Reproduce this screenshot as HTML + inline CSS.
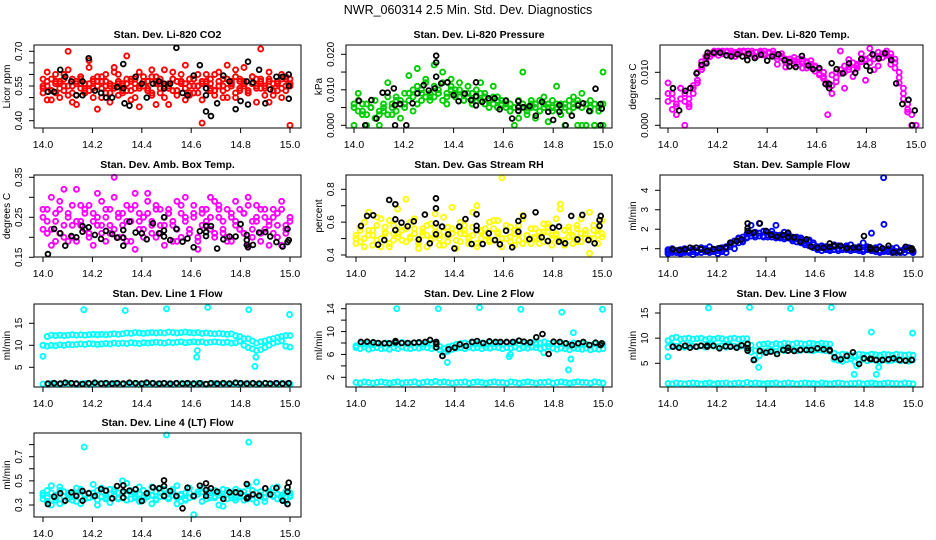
<!DOCTYPE html>
<html><head><meta charset="utf-8"><style>
html,body{margin:0;padding:0;background:#fff;}
svg{display:block;font-family:"Liberation Sans",Arial,sans-serif;}
</style></head><body>
<svg id="chart" width="936" height="540" viewBox="0 0 936 540" xmlns="http://www.w3.org/2000/svg">
<rect x="0" y="0" width="936" height="540" fill="#fff"/>
<text x="468" y="14" text-anchor="middle" font-size="12.5">NWR_060314  2.5 Min. Std. Dev. Diagnostics</text>
</svg>
<script>
// shared x values
const xTicks = [14.0,14.2,14.4,14.6,14.8,15.0];
const xTickLabels = ["14.0","14.2","14.4","14.6","14.8","15.0"];
const T = [14.02,14.045,14.07,14.09,14.115,14.135,14.16,14.185,14.21,14.235,14.255,14.28,14.30,14.325,14.35,14.375,14.40,14.42,14.445,14.47,14.49,14.515,14.54,14.565,14.585,14.61,14.635,14.66,14.68,14.705,14.73,14.755,14.78,14.80,14.825,14.85,14.875,14.90,14.92,14.945,14.97,14.995];

// Panel 1 CO2
const yTicks1 = [0.40,0.45,0.50,0.55,0.60,0.65,0.70];
const yLabels1 = ["0.40","0.55","0.70"];
const red1 = [.58,.61,.53,.57,.50,.55,.62,.48,.56,.59,.52,.66,.54,.57,.50,.60,.55,.63,.51,.56,.58,.49,.54,.61,.57,.53,.59,.47,.56,.62,.54,.58,.51,.57,.64,.52,.55,.60,.49,.56,.58,.53,.61,.55,.50,.57,.59,.54,.63,.52,.56,.48,.58,.55,.61,.53,.57,.50,.59,.56];
const red2 = [.52,.55,.49,.60,.57,.53,.70,.58,.51,.56,.54,.63,.57,.45,.59,.55,.52,.61,.56,.53,.68,.57,.50,.55,.59,.54,.62,.57,.52,.55,.47,.58,.53,.60,.56,.51,.58,.55,.39,.57,.53,.60,.55,.50,.58,.56,.62,.53,.57,.52,.59,.55,.71,.54,.58,.51,.56,.60,.53,.58];
const red3 = [.54,.49,.58,.52,.56,.60,.51,.55,.47,.58,.53,.56,.50,.59,.54,.57,.48,.55,.60,.52,.56,.53,.58,.46,.55,.57,.51,.59,.54,.50,.56,.61,.53,.57,.49,.55,.58,.52,.56,.60,.54,.51,.57,.53,.64,.55,.50,.58,.56,.52,.59,.54,.57,.51,.48,.56,.53,.58,.55,.38];
const red4 = [.55,.57,.53,.56,.54,.58,.55,.52,.57,.54,.56,.53,.58,.55,.57,.52,.56,.54,.57,.55,.53,.58,.56,.54,.55,.57,.52,.56,.58,.54,.55,.53,.57,.56,.54,.58,.52,.55,.57,.54,.56,.53,.55,.58,.54,.56,.52,.57,.55,.53,.56,.58,.54,.55,.57,.53,.56,.54,.58,.55];
const blk1 = [.525,.525,.62,.59,.57,.51,.57,.67,.53,.52,.50,.50,.545,.645,.465,.59,.56,.50,.56,.57,.54,.56,.715,.52,.51,.595,.64,.51,.42,.475,.595,.57,.45,.485,.57,.565,.62,.475,.535,.59,.59,.55];
const extT1 = [14.16,14.325,14.33,14.66,14.66,14.83,14.83,14.995,14.995,14.49];
const extV1 = [.51,.54,.475,.54,.44,.47,.655,.60,.495,.56];

// Panel 2 Pressure
const yTicks2 = [0,0.005,0.010,0.015,0.020];
const yLabels2 = ["0.000","0.010","0.020"];
const grn1 = [.006,.007,.004,.006,.005,.007,.003,.006,.008,.005,.007,.006,.009,.009,.010,.011,.010,.012,.009,.011,.010,.012,.009,.011,.010,.010,.009,.008,.009,.008,.009,.008,.007,.008,.007,.006,.007,.006,.005,.007,.006,.005,.006,.006,.007,.005,.006,.007,.006,.006,.005,.007,.006,.006,.005,.006,.007,.006,.005,.006];
const grn2 = [.000,.009,.003,.000,.005,.002,.000,.004,.012,.003,.008,.002,.006,.014,.004,.016,.007,.013,.008,.017,.009,.015,.006,.013,.008,.012,.007,.011,.006,.010,.012,.009,.005,.011,.008,.007,.006,.004,.000,.002,.015,.003,.007,.002,.004,.008,.001,.005,.011,.003,.000,.004,.008,.000,.009,.000,.005,.000,.004,.015];
const grn3 = [.005,.004,.006,.003,.005,.002,.004,.005,.003,.006,.004,.007,.005,.007,.008,.006,.009,.008,.007,.008,.009,.007,.008,.010,.009,.008,.007,.009,.007,.008,.007,.006,.007,.006,.005,.006,.005,.004,.005,.004,.005,.004,.005,.005,.004,.006,.005,.004,.005,.005,.006,.004,.005,.007,.000,.000,.004,.000,.005,.000];
const blk2 = [.0069,0,.0071,.0019,.0092,.0092,.0104,.006,0,.0062,.009,.0113,.0098,.0104,.0118,.0121,.0085,.0068,.0089,.0071,.0121,.0066,.0076,.0076,.0045,.0069,.0019,.0068,.0051,.0054,.0027,.0066,.0038,.0015,.0057,0,.0027,.0056,.0062,.004,.0103,.0047];
const extT2 = [14.165,14.165,14.33,14.33,14.33,14.49,14.49,14.66,14.66,14.825,14.99,14.99];
const extV2 = [.0057,0,.0196,.0177,.0137,.0082,.0056,.0041,.0051,.0038,.006,0];

// Panel 3 Temp
const yTicks3 = [0,0.005,0.010];
const yLabels3 = ["0.000","0.010"];
const mag1 = [.006,.005,.004,.005,.006,.005,.006,.010,.012,.013,.0135,.014,.0138,.014,.0138,.014,.0135,.014,.0138,.0135,.014,.0138,.0135,.014,.0138,.0135,.013,.0128,.0125,.012,.0122,.012,.0125,.012,.0115,.011,.0105,.010,.008,.0075,.009,.0105,.010,.011,.0105,.0115,.012,.0125,.0118,.0125,.013,.0135,.014,.0135,.0125,.010,.007,.004,.002,.000];
const mag2 = [.008,.003,.002,.007,.000,.004,.007,.008,.011,.012,.013,.0138,.0132,.0138,.0132,.0136,.013,.0138,.014,.0132,.0136,.013,.0138,.0132,.0136,.014,.0115,.013,.011,.0125,.0128,.0115,.012,.0108,.0122,.0112,.0098,.0092,.002,.006,.010,.014,.007,.0124,.0092,.0108,.0135,.0085,.0145,.0105,.0112,.0128,.0132,.0115,.0108,.008,.005,.0025,.000,.000];
const mag3 = [.0045,.006,.0035,.007,.0045,.0035,.0075,.0085,.0105,.0125,.013,.0135,.014,.0135,.014,.0133,.0138,.0135,.014,.014,.0135,.0138,.014,.0135,.0138,.0132,.0125,.0135,.0118,.0125,.0115,.0125,.0108,.0118,.011,.0102,.0095,.0088,.0075,.0095,.0082,.0098,.0112,.0105,.0118,.0112,.0125,.0122,.0128,.0132,.0138,.0128,.0135,.0128,.0118,.009,.006,.003,.000,.000];
const blk3 = [.007,.0028,.0065,.007,.0098,.0114,.0137,.0137,.0137,.0132,.013,.0134,.013,.0135,.0127,.0133,.0122,.013,.0134,.0123,.0119,.011,.0131,.0113,.0106,.0108,.0078,.0117,.0106,.0098,.0117,.0099,.0125,.0112,.0134,.0126,.0136,.0123,.0079,.004,.0048,.0028];
const extT3 = [14.155,14.157,14.32,14.49,14.65,14.65,14.815,14.985];
const extV3 = [.0117,.013,.0123,.0111,.0078,.007,.0103,0];

// Panel 4 Amb box temp
const yTicks4 = [0.15,0.20,0.25,0.30,0.35];
const yLabels4 = ["0.15","0.25","0.35"];
const amb1 = [.25,.21,.30,.19,.27,.23,.26,.20,.32,.24,.22,.28,.18,.25,.21,.27,.23,.30,.20,.26,.24,.19,.28,.22,.25,.31,.21,.27,.23,.18,.26,.24,.29,.20,.25,.22,.28,.19,.26,.23,.30,.21,.27,.24,.20,.25,.29,.22,.26,.18,.24,.28,.21,.25,.23,.27,.20,.29,.22,.25];
const amb2 = [.22,.27,.18,.24,.29,.20,.25,.23,.19,.28,.26,.21,.24,.31,.23,.19,.27,.22,.25,.20,.28,.24,.17,.26,.22,.29,.24,.20,.27,.23,.26,.19,.22,.28,.24,.21,.26,.17,.23,.27,.25,.20,.28,.22,.19,.26,.23,.27,.21,.30,.22,.25,.19,.27,.24,.21,.26,.18,.23,.25];
const amb3 = [.27,.24,.22,.26,.21,.32,.19,.28,.24,.23,.27,.20,.26,.23,.29,.25,.21,.35,.26,.23,.19,.27,.31,.24,.20,.26,.23,.28,.21,.25,.27,.23,.19,.26,.30,.22,.25,.20,.27,.24,.22,.29,.25,.21,.27,.19,.24,.22,.26,.28,.20,.24,.27,.22,.18,.25,.23,.27,.21,.24];
const blk4 = [.158,.221,.21,.179,.203,.20,.214,.225,.206,.196,.216,.208,.199,.199,.239,.212,.21,.195,.235,.21,.217,.193,.221,.189,.197,.175,.215,.228,.228,.172,.195,.202,.202,.233,.206,.181,.212,.213,.202,.188,.177,.193];
const extT4 = [14.16,14.325,14.325,14.49,14.49,14.66,14.66,14.825,14.825,14.83,14.99,14.99];
const extV4 = [.228,.218,.179,.25,.202,.203,.213,.193,.181,.175,.221,.188];

// Panel 5 RH
const yTicks5 = [0.4,0.5,0.6,0.7,0.8];
const yLabels5 = ["0.4","0.6","0.8"];
const yel1 = [.52,.48,.60,.55,.46,.63,.50,.57,.45,.53,.68,.49,.56,.51,.62,.47,.54,.58,.50,.65,.52,.46,.57,.53,.49,.60,.55,.47,.52,.70,.50,.56,.48,.61,.53,.45,.58,.51,.55,.49,.64,.52,.47,.56,.50,.59,.54,.46,.53,.71,.49,.57,.52,.48,.62,.55,.50,.58,.47,.53];
const yel2 = [.47,.55,.50,.66,.52,.58,.45,.54,.61,.49,.53,.57,.74,.50,.56,.48,.52,.45,.59,.54,.50,.63,.48,.56,.44,.53,.58,.51,.66,.47,.55,.52,.60,.49,.54,.87,.50,.57,.46,.53,.62,.49,.56,.51,.47,.54,.59,.50,.52,.68,.46,.55,.51,.58,.48,.53,.66,.50,.56,.51];
const yel3 = [.50,.57,.45,.52,.55,.49,.62,.53,.47,.58,.51,.55,.48,.60,.53,.44,.56,.52,.49,.57,.46,.54,.51,.69,.55,.48,.53,.50,.57,.45,.54,.52,.49,.56,.61,.50,.55,.48,.53,.58,.47,.52,.56,.50,.54,.48,.57,.52,.62,.49,.55,.51,.47,.56,.53,.50,.41,.55,.52,.61];
const blk5 = [.577,.638,.642,.463,.491,.735,.617,.597,.575,.605,.495,.646,.471,.593,.573,.526,.44,.573,.619,.467,.648,.467,.532,.491,.465,.548,.447,.607,.638,.497,.66,.508,.485,.566,.481,.471,.638,.495,.644,.491,.471,.638];
const extT5 = [14.16,14.16,14.325,14.325,14.325,14.49,14.49,14.66,14.825,14.99,14.99];
const extV5 = [.552,.709,.745,.684,.526,.577,.552,.542,.573,.577,.613];

// Panel 6 Sample flow
const yTicks6 = [1,2,3,4];
const yLabels6 = ["1","2","3","4"];
const blu1 = [.85,.8,.9,.85,.8,.9,.85,.9,.95,.85,.9,.95,.9,.85,1.0,1.2,1.4,1.55,1.6,1.75,1.8,1.85,1.8,1.9,1.85,1.75,1.7,1.7,1.6,1.65,1.6,1.5,1.45,1.4,1.35,1.2,1.1,1.05,1.0,1.05,1.1,1.0,1.05,1.1,1.0,1.05,1.0,.95,1.0,1.0,.95,.9,.95,1.0,.9,.85,.9,.95,.9,.85];
const blu2 = [.95,1.0,.9,.95,1.0,.85,1.0,.8,1.05,.95,1.1,.85,1.0,1.05,1.1,1.3,1.25,1.5,1.4,1.6,2.2,1.7,2.3,1.65,1.6,1.9,2.2,1.55,1.85,1.75,1.5,1.6,1.55,1.3,1.45,1.3,1.0,1.15,1.1,.95,1.2,1.15,.95,1.15,1.2,.95,1.1,1.3,1.1,1.8,1.05,1.1,2.25,.85,1.0,1.05,.8,1.0,1.05,.9];
const blu3 = [.75,.9,.8,.75,.9,.8,.7,.85,.8,1.0,.8,.85,.75,.95,.8,1.1,1.0,1.3,1.35,1.55,1.65,1.6,1.65,1.6,1.7,1.6,1.55,1.6,1.5,1.55,1.4,1.35,1.3,1.2,1.15,1.05,.95,.9,.95,.9,.95,.9,.95,.95,.9,.95,.9,.85,.95,.9,.85,.8,.85,.9,.8,.8,.85,.8,.9,.8];
const outT6 = [14.88];
const outV6 = [4.65];
const blk6 = [.97,.93,.97,1.05,1.05,.98,.88,.98,1.03,1.07,1.31,1.39,1.48,1.91,1.82,2.30,1.91,1.70,1.62,1.70,1.58,1.58,1.36,1.48,1.10,1.05,1.05,1.10,1.15,1.15,1.02,1.05,1.05,1.65,1.07,.97,1.02,1.15,.81,.85,1.10,1.02];
const extT6 = [14.325,14.325,14.49,14.66,14.825,14.995];
const extV6 = [2.30,2.05,1.82,1.27,.97,.93];

// Panel 7 Line 1
const yTicks7 = [5,10,15];
const yLabels7 = ["5","10","15"];
const cyU7 = [10.0,12.0,12.3,12.2,12.3,12.2,12.3,12.4,12.3,12.4,12.3,12.4,12.5,12.4,12.5,12.4,12.5,12.6,12.5,12.6,12.8,12.7,12.9,12.8,12.7,12.8,12.9,12.8,12.9,12.8,13.0,12.9,12.8,12.9,13.0,12.9,12.8,12.9,12.7,12.8,12.7,12.6,12.7,12.6,12.5,12.6,12.2,12.0,11.5,11.5,11.0,10.5,10.8,11.0,11.3,11.5,11.8,12.0,12.2,12.2];
const cyL7 = [10.0,9.8,10.0,9.9,10.1,10.0,10.2,10.1,10.2,10.3,10.2,10.4,10.3,10.2,10.3,10.4,10.3,10.5,10.4,10.5,10.4,10.6,10.5,10.4,10.6,10.5,10.6,10.7,10.6,10.5,10.7,10.6,10.7,10.8,10.6,10.7,10.8,10.7,10.8,10.6,10.7,10.8,10.7,10.6,10.7,10.5,10.6,11.0,10.0,9.5,9.2,8.8,9.0,9.5,10.0,10.5,10.8,11.0,9.8,9.6];
const cyB7 = [1.2,1.1,1.3,1.2,1.1,1.2,1.3,1.2,1.1,1.2,1.3,1.1,1.2,1.2,1.3,1.1,1.2,1.3,1.2,1.1,1.2,1.3,1.2,1.1,1.2,1.2,1.3,1.1,1.2,1.3,1.2,1.1,1.2,1.3,1.2,1.2,1.1,1.3,1.2,1.1,1.2,1.3,1.2,1.1,1.2,1.2,1.3,1.1,1.2,1.3,1.2,1.1,1.2,1.3,1.2,1.2,1.1,1.3,1.2,1.1];
const outT7 = [14.0,14.165,14.333,14.5,14.622,14.625,14.667,14.833,14.862,14.858,14.998];
const outV7 = [7.5,18.1,17.9,18.3,7.3,8.8,18.6,18.1,7.3,5.2,17.0];
const blk7 = [1.3,1.4,1.3,1.5,1.4,1.3,1.2,1.4,1.5,1.3,1.4,1.3,1.4,1.3,1.5,1.4,1.3,1.5,1.4,1.3,1.4,1.3,1.4,1.3,1.4,1.3,1.4,1.2,1.4,1.3,1.4,1.3,1.5,1.4,1.3,1.4,1.3,1.4,1.3,1.4,1.3,1.4];

// Panel 8 Line 2
const yTicks8 = [2,4,6,8,10,12,14];
const yLabels8 = ["2","6","10","14"];
const cyU8 = [7.5,7.9,7.8,8.0,7.7,7.9,7.8,8.0,7.7,7.9,7.8,8.1,7.9,7.8,8.0,7.9,7.8,8.0,7.9,8.1,7.4,7.0,7.3,7.5,7.8,7.9,8.0,7.8,8.1,7.9,8.0,7.8,8.1,7.9,8.0,7.8,8.0,7.9,8.1,7.8,8.0,7.9,8.1,7.8,8.0,8.2,7.9,8.0,7.8,8.0,7.9,7.8,8.0,7.7,7.9,7.8,7.6,7.9,7.7,7.8];
const cyL8 = [7.2,7.0,7.3,6.9,7.1,7.2,7.0,7.1,6.9,7.2,7.0,7.3,7.1,7.0,7.2,7.1,7.3,7.2,7.0,7.2,6.8,6.3,6.6,6.9,7.1,7.2,7.0,7.3,7.1,7.2,7.0,7.2,7.1,7.3,7.2,7.0,7.2,7.1,7.3,7.0,7.2,7.1,7.3,7.2,7.0,7.2,7.4,7.1,6.9,7.1,7.0,6.8,7.1,7.0,6.9,7.1,6.8,7.0,6.9,7.0];
const cyB8 = [1.1,1.0,1.2,1.1,1.0,1.1,1.2,1.1,1.0,1.1,1.2,1.0,1.1,1.1,1.2,1.0,1.1,1.2,1.1,1.3,1.1,1.2,1.1,1.0,1.1,1.1,1.2,1.0,1.1,1.2,1.1,1.0,1.1,1.2,1.1,1.1,1.0,1.2,1.1,1.0,1.1,1.2,1.1,1.0,1.1,1.1,1.2,1.0,1.1,1.2,1.1,1.0,1.1,1.2,1.1,1.1,1.0,1.2,1.1,1.0];
const outT8 = [14.165,14.333,14.5,14.667,14.833,14.998,14.35,14.37,14.62,14.625,14.76,14.86,14.87,14.88];
const outV8 = [14,14,14.2,13.9,13.4,13.9,5.8,4.6,5.6,6.0,6.3,3.3,5.2,9.8];
const blk8 = [8.18,8.23,8.12,8.0,7.95,7.95,8.1,8.0,8.0,8.06,8.12,8.18,8.53,8.18,5.73,6.9,7.19,7.77,7.48,8.18,8.35,8.0,8.29,8.18,8.18,8.18,8.18,8.41,8.23,8.12,9.0,9.57,6.08,8.23,8.18,7.95,7.65,7.95,8.18,7.65,8.06,7.95];
const extT8 = [14.16,14.325,14.325,14.66,14.99];
const extV8 = [8.35,7.83,7.24,8.41,7.65];

// Panel 9 Line 3
const yTicks9 = [5,10,15];
const yLabels9 = ["5","10","15"];
const cyU9 = [9.5,10.0,10.2,9.8,9.9,10.0,9.8,9.9,10.0,9.7,9.9,9.8,10.0,9.9,9.7,9.9,10.0,9.8,9.9,9.9,8.6,7.5,8.7,8.8,8.9,8.7,8.9,8.8,9.0,8.9,8.8,9.0,8.9,8.8,9.0,8.9,8.8,9.0,8.9,8.8,7.0,6.6,6.8,6.7,6.5,6.6,6.8,6.7,6.6,6.8,6.7,6.6,6.8,6.7,6.6,6.8,6.7,6.6,6.7,6.6];
const cyL9 = [8.2,8.6,8.4,8.5,8.2,8.6,8.4,8.3,8.5,8.2,8.6,8.4,8.3,8.5,8.2,8.6,8.4,8.3,8.5,8.0,7.2,5.8,6.5,7.3,7.5,7.6,7.4,7.7,7.5,7.6,7.7,7.5,7.6,7.8,7.6,7.5,7.7,7.6,7.5,7.4,5.8,5.6,5.4,5.7,5.9,5.3,5.6,5.8,5.5,5.7,5.6,5.4,5.7,5.5,5.6,5.8,5.5,5.6,5.4,5.7];
const cyB9 = [1.0,0.9,1.1,1.0,0.9,1.0,1.1,1.0,0.9,1.0,1.1,0.9,1.0,1.0,1.1,0.9,1.0,1.1,1.0,1.2,1.0,1.1,1.0,0.9,1.0,1.0,1.1,0.9,1.0,1.1,1.0,0.9,1.0,1.1,1.0,1.0,0.9,1.1,1.0,0.9,1.0,1.1,1.0,0.9,1.0,1.0,1.1,0.9,1.0,1.1,1.0,0.9,1.0,1.1,1.0,1.0,0.9,1.1,1.0,0.9];
const outT9 = [14.0,14.165,14.333,14.5,14.667,14.37,14.76,14.77,14.83,14.85,14.86,14.998];
const outV9 = [6.3,16,16.1,15.9,16.1,4.2,2.8,4.5,11.2,2.8,4.2,11.0];
const blk9 = [8.3,8.1,8.5,8.1,8.3,8.5,8.5,8.5,7.98,8.4,8.3,8.1,8.57,8.84,5.66,7.45,7.12,7.32,6.85,7.65,8.1,7.45,7.65,7.65,7.65,7.98,7.78,7.65,6.2,5.8,6.46,7.19,4.87,5.99,5.86,5.66,5.66,5.8,5.99,5.66,5.53,5.66];
const extT9 = [14.16,14.325,14.325,14.49,14.66,14.83];
const extV9 = [8.3,8.0,7.5,7.5,7.5,5.86];

// Panel 10 Line 4
const yTicks10 = [0.3,0.4,0.5,0.6,0.7,0.8];
const yLabels10 = ["0.3","0.5","0.7"];
const cy1_10 = [.35,.42,.30,.38,.45,.33,.40,.37,.44,.31,.39,.36,.47,.34,.41,.38,.32,.43,.36,.40,.48,.35,.39,.33,.42,.37,.45,.34,.40,.38,.36,.43,.31,.39,.35,.44,.37,.41,.33,.40,.36,.42,.38,.29,.35,.40,.43,.37,.34,.46,.38,.32,.41,.36,.39,.44,.35,.38,.33,.40];
const cy2_10 = [.40,.33,.46,.36,.31,.41,.38,.34,.39,.43,.35,.40,.37,.30,.44,.36,.39,.41,.35,.50,.38,.42,.36,.45,.34,.39,.31,.41,.37,.43,.35,.38,.46,.33,.40,.36,.22,.39,.44,.35,.41,.37,.30,.43,.39,.36,.34,.41,.38,.35,.42,.49,.37,.33,.40,.38,.45,.36,.41,.37];
const cy3_10 = [.38,.36,.40,.34,.42,.37,.35,.39,.33,.41,.38,.36,.40,.42,.37,.35,.43,.38,.40,.36,.34,.41,.37,.39,.36,.40,.38,.35,.44,.37,.39,.41,.36,.38,.34,.40,.37,.39,.41,.35,.38,.36,.40,.37,.42,.38,.36,.39,.41,.37,.35,.40,.38,.36,.41,.37,.39,.35,.40,.38];
const outT10 = [14.167,14.5,14.833];
const outV10 = [.78,.88,.82];
const blk10 = [.308,.369,.397,.336,.405,.375,.336,.397,.375,.432,.419,.355,.457,.463,.419,.43,.333,.397,.446,.438,.504,.416,.375,.272,.443,.375,.46,.479,.438,.41,.35,.405,.405,.397,.474,.388,.377,.438,.388,.441,.336,.485];
const extT10 = [14.16,14.325,14.325,14.49,14.49,14.66,14.66,14.825,14.83,14.99,14.99,14.99];
const extV10 = [.416,.413,.361,.457,.375,.424,.375,.355,.363,.41,.308,.446];

const panels = [
 {id:'co2',title:'Stan. Dev. Li-820 CO2',ylab:'Licor ppm',box:[34,45,301,128],xr:[43,290],ya:[0.70,51.3],yb:[0.40,120.7],ticks:yTicks1,labels:yLabels1,color:'#ff0000',bands:[red1,red2,red3,red4],outT:[],outV:[],blk:blk1,eT:extT1,eV:extV1},
 {id:'pressure',title:'Stan. Dev. Li-820 Pressure',ylab:'kPa',box:[346,45,612,128],xr:[354,603],ya:[0.020,54.3],yb:[0,125.3],ticks:yTicks2,labels:yLabels2,color:'#00cd00',bands:[grn1,grn2,grn3],outT:[],outV:[],blk:blk2,eT:extT2,eV:extV2},
 {id:'temp',title:'Stan. Dev. Li-820 Temp.',ylab:'degrees C',box:[660,45,923,128],xr:[668,916],ya:[0.010,72.3],yb:[0,125.3],ticks:yTicks3,labels:yLabels3,color:'#ff00ff',bands:[mag1,mag2,mag3],outT:[],outV:[],blk:blk3,eT:extT3,eV:extV3},
 {id:'amb-box-temp',title:'Stan. Dev. Amb. Box Temp.',ylab:'degrees C',box:[34,175,301,257],xr:[43,290],ya:[0.35,177.3],yb:[0.15,257.3],ticks:yTicks4,labels:yLabels4,color:'#ff00ff',bands:[amb1,amb2,amb3],outT:[],outV:[],blk:blk4,eT:extT4,eV:extV4},
 {id:'gas-rh',title:'Stan. Dev. Gas Stream RH',ylab:'percent',box:[346,175,612,257],xr:[356,602],ya:[0.8,189.3],yb:[0.4,255],ticks:yTicks5,labels:yLabels5,color:'#ffff00',bands:[yel1,yel2,yel3],outT:[],outV:[],blk:blk5,eT:extT5,eV:extV5},
 {id:'sample-flow',title:'Stan. Dev. Sample Flow',ylab:'ml/min',box:[660,175,923,257],xr:[668,913],ya:[4,190.3],yb:[1,248.7],ticks:yTicks6,labels:yLabels6,color:'#0000ff',bands:[blu1,blu2,blu3],outT:outT6,outV:outV6,blk:blk6,eT:extT6,eV:extV6},
 {id:'line1',title:'Stan. Dev. Line 1 Flow',ylab:'ml/min',box:[34,304,301,387],xr:[43,290],ya:[15,323.3],yb:[5,367.3],ticks:yTicks7,labels:yLabels7,color:'#00ffff',bands:[cyU7,cyL7,cyB7],outT:outT7,outV:outV7,blk:blk7,eT:[],eV:[]},
 {id:'line2',title:'Stan. Dev. Line 2 Flow',ylab:'ml/min',box:[346,304,612,387],xr:[356,603],ya:[14,308.7],yb:[2,377.3],ticks:yTicks8,labels:yLabels8,color:'#00ffff',bands:[cyU8,cyL8,cyB8],outT:outT8,outV:outV8,blk:blk8,eT:extT8,eV:extV8},
 {id:'line3',title:'Stan. Dev. Line 3 Flow',ylab:'ml/min',box:[660,304,923,387],xr:[668,913],ya:[15,313],yb:[5,363.3],ticks:yTicks9,labels:yLabels9,color:'#00ffff',bands:[cyU9,cyL9,cyB9],outT:outT9,outV:outV9,blk:blk9,eT:extT9,eV:extV9},
 {id:'line4',title:'Stan. Dev. Line 4 (LT) Flow',ylab:'ml/min',box:[34,433,301,517],xr:[43,290],ya:[0.7,456.7],yb:[0.3,505],ticks:yTicks10,labels:yLabels10,color:'#00ffff',bands:[cy1_10,cy2_10,cy3_10],outT:outT10,outV:outV10,blk:blk10,eT:extT10,eV:extV10}
];

const NS = 'http://www.w3.org/2000/svg';
const svg = document.getElementById('chart');
function mk(tag, attrs, parent){
  const el = document.createElementNS(NS, tag);
  for (const k in attrs) el.setAttribute(k, attrs[k]);
  parent.appendChild(el);
  return el;
}

panels.forEach(p => {
  const [L,Tp,R,B] = p.box;
  const xs = v => p.xr[0] + (v-14)*(p.xr[1]-p.xr[0]);
  const ys = v => p.ya[1] + (v-p.ya[0])*(p.yb[1]-p.ya[1])/(p.yb[0]-p.ya[0]);
  const g = mk('g', {}, svg);
  
  

  const clipId = 'clip-' + p.id;
  const cp = mk('clipPath', {id: clipId}, g);
  mk('rect', {x:L-3, y:Tp-3, width:R-L+6, height:B-Tp+6}, cp);

  const title = mk('text', {x:(L+R)/2, y:Tp-7, 'text-anchor':'middle', 'font-size':'10.5', 'font-weight':'bold'}, g);
  title.textContent = p.title;
  
  

  const yl = mk('text', {transform:'translate('+(L-24)+','+((Tp+B)/2)+') rotate(-90)', 'text-anchor':'middle', 'font-size':'10'}, g);
  yl.textContent = p.ylab;
  
  

  p.ticks.forEach(v => {
    const y = ys(v);
    const t = mk('line', {x1:L-5, x2:L, y1:y, y2:y, stroke:'#000', 'stroke-width':1}, g);
    
    
  });
  p.labels.forEach(s => {
    const y = ys(parseFloat(s));
    const t = mk('text', {transform:'translate('+(L-12)+','+y+') rotate(-90)', 'text-anchor':'middle', 'font-size':'10'}, g);
    t.textContent = s;
    
    
  });
  xTicks.forEach((v,i) => {
    const x = xs(v);
    const t = mk('line', {x1:x, x2:x, y1:B, y2:B+5, stroke:'#000', 'stroke-width':1}, g);
    
    
    const lb = mk('text', {x:x, y:B+20, 'text-anchor':'middle', 'font-size':'10.5'}, g);
    lb.textContent = xTickLabels[i];
    
    
  });

  const pts = mk('g', {'clip-path':'url(#'+clipId+')', fill:'none'}, g);
  
  
  p.bands.forEach(arr => {
    arr.forEach((v,i) => {
      const c = mk('circle', {cx:xs(14 + i/(arr.length-1)), cy:ys(v), r:2.5, stroke:p.color, 'stroke-width':1.9}, pts);
      
      
    });
  });
  p.outT.forEach((t,i) => {
    const c = mk('circle', {cx:xs(t), cy:ys(p.outV[i]), r:2.5, stroke:p.color, 'stroke-width':1.9}, pts);
    
    
  });
  p.blk.forEach((v,i) => {
    const c = mk('circle', {cx:xs(T[i]), cy:ys(v), r:2.4, stroke:'#000', 'stroke-width':1.8}, pts);
    
    
  });
  p.eT.forEach((t,i) => {
    const c = mk('circle', {cx:xs(t), cy:ys(p.eV[i]), r:2.4, stroke:'#000', 'stroke-width':1.8}, pts);
    
    
  });

  const box = mk('rect', {x:L, y:Tp, width:R-L, height:B-Tp, fill:'none', stroke:'#000', 'stroke-width':1}, g);
  
  
});
</script>
</body></html>
